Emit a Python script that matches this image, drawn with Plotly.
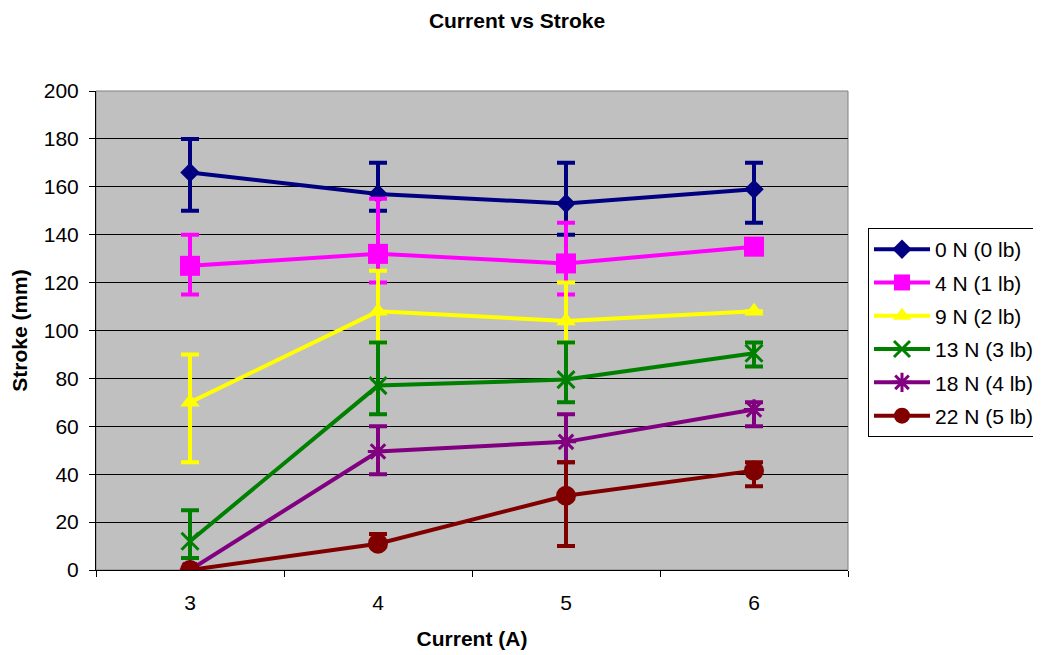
import plotly.graph_objects as go

currents = ["3", "4", "5", "6"]
series_names = ["0 N (0 lb)", "4 N (1 lb)", "9 N (2 lb)", "13 N (3 lb)", "18 N (4 lb)", "22 N (5 lb)"]

stroke_0N = [166, 157, 153, 159]
stroke_4N = [127, 132, 128, 135]
stroke_9N = [70, 108, 104, 108]
stroke_13N = [12, 77, 79.5, 90.5]
stroke_18N = [0, 49.5, 53.5, 67]
stroke_22N = [0, 11, 31, 41.5]

# error bar upper / lower bounds (absolute values)
upper_0N = [180, 170, 170, 170]
lower_0N = [150, 150, 140, 145]
upper_4N = [140, 155, 145, 135]
lower_4N = [115, 120, 115, 135]
upper_9N = [90, 125, 120, 108]
lower_9N = [45, 95, 95, 108]
upper_13N = [25, 95, 95, 95]
lower_13N = [5, 65, 70, 85]
upper_18N = [0, 60, 65, 70]
lower_18N = [0, 40, 45, 60]
upper_22N = [0, 15, 45, 45]
lower_22N = [0, 11, 10, 35]

values = [stroke_0N, stroke_4N, stroke_9N, stroke_13N, stroke_18N, stroke_22N]
uppers = [upper_0N, upper_4N, upper_9N, upper_13N, upper_18N, upper_22N]
lowers = [lower_0N, lower_4N, lower_9N, lower_13N, lower_18N, lower_22N]

colors = ["#000080", "#FF00FF", "#FFFF00", "#008000", "#800080", "#800000"]
symbols = ["diamond", "square", "triangle-up", "x-thin-open", "asterisk-open", "circle"]
sizes = [15, 20, 17, 17, 17, 20]

FONT = "Liberation Sans, Arial, sans-serif"
FS = 21

W, H = 1033, 647
L, T, R_EDGE, B_EDGE = 88, 83, 840, 562

fig = go.Figure()
for i, (name, v, up, lo, c, s, sz) in enumerate(zip(series_names, values, uppers, lowers, colors, symbols, sizes)):
    plus = [u - y for u, y in zip(up, v)]
    minus = [y - l for l, y in zip(lo, v)]
    marker = dict(symbol=s, size=sz, color=c)
    if "open" in s:
        marker["line"] = dict(color=c, width=3)
    fig.add_trace(go.Scatter(
        x=currents, y=v, name=name, mode="lines+markers", legendgroup=f"g{i}",
        line=dict(color=c, width=4),
        marker=marker,
        error_y=dict(type="data", symmetric=False, array=plus, arrayminus=minus,
                     color=c, thickness=4, width=9),
    ))

fig.update_layout(
    width=W, height=H,
    margin=dict(l=L, r=W - R_EDGE, t=T, b=H - B_EDGE, autoexpand=False),
    paper_bgcolor="white", plot_bgcolor="#C0C0C0",
    font=dict(family=FONT, size=FS, color="black"),
    title=dict(text="<b>Current vs Stroke</b>", x=509 / W, xanchor="center",
               y=1 - 13 / H, yanchor="middle", font=dict(size=FS)),
    showlegend=True,
    legend=dict(x=(860 - L) / (R_EDGE - L), xanchor="left",
                y=(B_EDGE - 220) / (B_EDGE - T), yanchor="top",
                bordercolor="black", borderwidth=1, bgcolor="white",
                font=dict(size=FS), itemwidth=56, tracegroupgap=3),
    xaxis=dict(type="category", tickson="boundaries", ticks="outside", ticklen=6,
               tickcolor="black", showline=True, linecolor="black", linewidth=1,
               showgrid=False, range=[-0.5, 3.5], ticklabelstandoff=14,
               title=dict(text="<b>Current (A)</b>", font=dict(size=FS), standoff=18),
               tickfont=dict(size=FS)),
    yaxis=dict(range=[0, 200], dtick=20, ticks="outside", ticklen=6, tickcolor="black",
               showline=True, linecolor="black", linewidth=1,
               showgrid=True, gridcolor="black", gridwidth=1, zeroline=False,
               ticklabelstandoff=6,
               title=dict(text="<b>Stroke (mm)</b>", font=dict(size=FS), standoff=10),
               tickfont=dict(size=FS)),
)
fig.add_shape(type="rect", xref="paper", yref="paper", x0=0, x1=1, y0=0, y1=1,
              line=dict(color="#808080", width=1), layer="below")

fig.write_html("out.html")
